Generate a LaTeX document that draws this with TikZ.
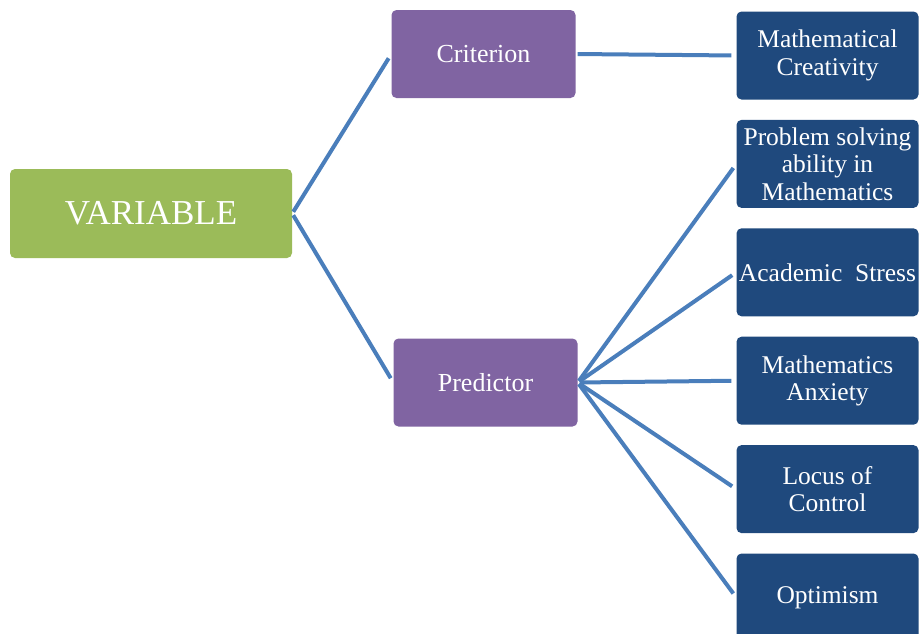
\documentclass[tikz,border=0pt]{standalone}
\usepackage{fontspec}
\setmainfont{Liberation Serif}
\usepackage{tikz}
\usetikzlibrary{positioning}
\definecolor{green}{HTML}{9BBB59}
\definecolor{purple}{HTML}{8064A2}
\definecolor{navy}{HTML}{1F497D}
\definecolor{link}{HTML}{4A7EBB}

\begin{document}
\begin{tikzpicture}[% styles for all boxes, override case-by-case
	every node/.style={
		align=center,		% so that "\\" breaks the line
		rectangle,rounded corners=5pt,
		text=white,inner sep=2pt
		},
	varbox/.style={fill=green,minimum width=282pt,minimum height=89pt,font=\fontsize{35}{40}\selectfont},
	groupbox/.style={fill=purple,minimum width=184pt,minimum height=88pt,font=\fontsize{26}{30}\selectfont},
	itembox/.style={fill=navy,minimum width=182pt,minimum height=88pt,font=\fontsize{25.5}{27.5}\selectfont},
	every edge/.style={draw=link,line width=4pt,shorten <=2pt,shorten >=5pt}
	]
	\useasboundingbox (0,0) rectangle (920pt,-633pt);
	\node[varbox](R1) at (151pt,-213.5pt){VARIABLE};
	\node[groupbox](R2) at (483.5pt,-54pt){Criterion};
	\node[groupbox](R3) at (485.5pt,-382.5pt){Predictor};
	\node[itembox](R4) at (827.5pt,-55.5pt){Mathematical\\Creativity};
	\node[itembox](R5)[below=20pt of R4]{Problem solving\\ability in\\Mathematics};
	\node[itembox](R6)[below=20pt of R5]{Academic\ \ Stress};
	\node[itembox](R7)[below=20pt of R6]{Mathematics\\Anxiety};
	\node[itembox](R8)[below=20pt of R7]{Locus of\\Control};
	\node[itembox](R9)[below=20pt of R8]{Optimism};
	\path
	(R1.east)edge (R2.west)
	(R1.east)edge (R3.west)
	(R2.east)edge (R4.west)
	(R3.east)edge (R5.west)
	(R3.east)edge (R6.west)
	(R3.east)edge (R7.west)
	(R3.east)edge (R8.west)
	(R3.east)edge (R9.west)
	;
\end{tikzpicture}
\end{document}
